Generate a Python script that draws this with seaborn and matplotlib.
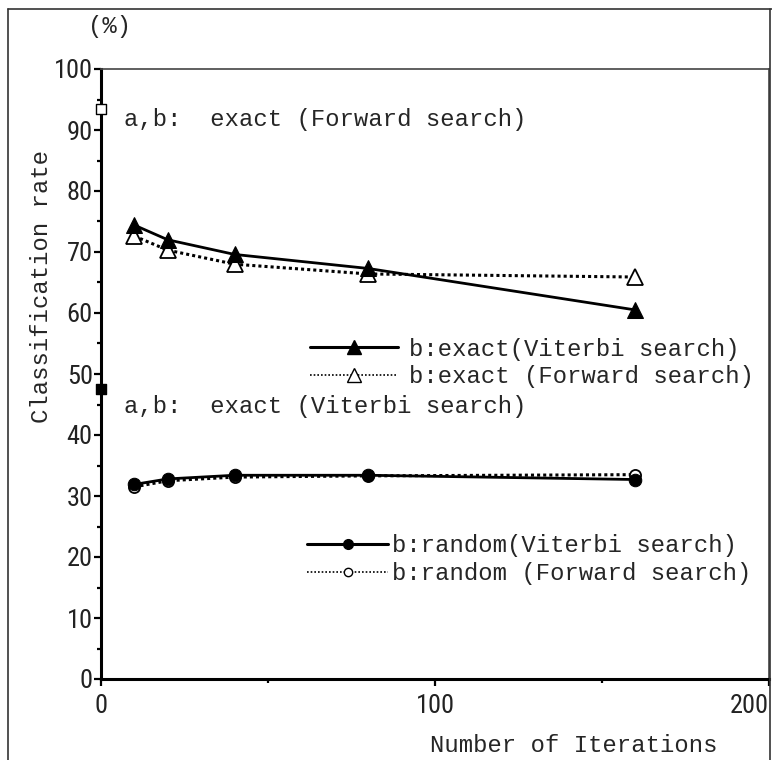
import matplotlib
matplotlib.use("Agg")
import matplotlib.pyplot as plt
from matplotlib import font_manager
from matplotlib.lines import Line2D
from matplotlib.ticker import MultipleLocator
import pandas as pd
import seaborn as sns

# ---- data -------------------------------------------------------------
iterations = [10, 20, 40, 80, 160]
exact_viterbi = [74.4, 72.0, 69.6, 67.3, 60.5]
exact_forward = [72.6, 70.3, 68.0, 66.4, 65.9]
random_viterbi = [31.9, 32.8, 33.4, 33.4, 32.7]
random_forward = [31.5, 32.5, 33.1, 33.3, 33.5]

ab_forward_rate = 93.5   # a,b: exact (Forward search)
ab_viterbi_rate = 47.5   # a,b: exact (Viterbi search)

series_labels = [
    "b:exact(Viterbi search)",
    "b:exact (Forward search)",
    "b:random(Viterbi search)",
    "b:random (Forward search)",
]
ab_labels = ["a,b:  exact (Forward search)", "a,b:  exact (Viterbi search)"]
x_ticks = [0, 100, 200]
y_ticks = list(range(0, 101, 10))

# ---- fonts ------------------------------------------------------------
sns.set_theme(style="white")

def have(name):
    try:
        font_manager.findfont(name, fallback_to_default=False)
        return True
    except Exception:
        return False

def condensed_font():
    # prefer a narrow sans face for the tick numbers
    names = sorted({f.name for f in font_manager.fontManager.ttflist})
    for pref in ("Liberation Sans Narrow", "Roboto Condensed",
                 "Open Sans Condensed", "DejaVu Sans Condensed",
                 "Noto Sans Condensed"):
        if pref in names:
            return pref, "normal"
    for f in font_manager.fontManager.ttflist:
        if "sans" in f.name.lower() and str(f.stretch) in (
                "condensed", "semi-condensed", "extra-condensed", "75", "87.5"):
            return f.name, f.stretch
    for n in names:
        if "Narrow" in n or "Condensed" in n:
            return n, "normal"
    return "Liberation Sans", "normal"

MONO = "Liberation Mono" if have("Liberation Mono") else "DejaVu Sans Mono"
NARROW, NARROW_STRETCH = condensed_font()
plt.rcParams["font.family"] = [MONO, "DejaVu Sans"]

# ---- figure -----------------------------------------------------------
fig = plt.figure(figsize=(7.72, 7.60), dpi=100)
ax = fig.add_axes([101 / 772, 81 / 760, 668 / 772, 610 / 760])

df = pd.DataFrame({"iter": iterations,
                   "ev": exact_viterbi, "ef": exact_forward,
                   "rv": random_viterbi, "rf": random_forward})

dotted = (0, (1.0, 1.0))
sns.lineplot(data=df, x="iter", y="ef", ax=ax, color="black", lw=2.2,
             linestyle=dotted, marker="^", markersize=11,
             markerfacecolor="white", markeredgecolor="black",
             markeredgewidth=1.3, zorder=3)
sns.lineplot(data=df, x="iter", y="ev", ax=ax, color="black", lw=2.0,
             marker="^", markersize=11, markerfacecolor="black",
             markeredgecolor="black", zorder=4)
sns.lineplot(data=df, x="iter", y="rf", ax=ax, color="black", lw=2.2,
             linestyle=dotted, marker="o", markersize=8,
             markerfacecolor="white", markeredgecolor="black",
             markeredgewidth=1.3, zorder=3)
sns.lineplot(data=df, x="iter", y="rv", ax=ax, color="black", lw=2.0,
             marker="o", markersize=9, markerfacecolor="black",
             markeredgecolor="black", zorder=4)

# a,b reference rates drawn on the y axis
sns.scatterplot(x=[0], y=[ab_forward_rate], ax=ax, marker="s", s=55,
                color="white", edgecolor="black", linewidth=1.0,
                clip_on=False, zorder=6)
sns.scatterplot(x=[0], y=[ab_viterbi_rate], ax=ax, marker="s", s=55,
                color="black", edgecolor="black", linewidth=1.0,
                clip_on=False, zorder=6)

txt_size = 17.2
ax.text(6.9, ab_forward_rate - 1.8, ab_labels[0], fontsize=txt_size,
        family=MONO, va="center", ha="left")
ax.text(6.9, ab_viterbi_rate - 2.8, ab_labels[1], fontsize=txt_size,
        family=MONO, va="center", ha="left")

# ---- axes styling -----------------------------------------------------
ax.set_xlim(0, 200)
ax.set_ylim(0, 100)
ax.set_xticks(x_ticks)
ax.set_yticks(y_ticks)
ax.xaxis.set_minor_locator(MultipleLocator(50))
ax.yaxis.set_minor_locator(MultipleLocator(5))
ax.tick_params(axis="both", which="major", direction="out", length=5,
               width=1.6, color="black", labelsize=19, pad=1,
               bottom=True, left=True)
ax.tick_params(axis="both", which="minor", direction="out", length=3,
               width=1.6, color="black", bottom=True, left=True)
for lab in ax.get_xticklabels() + ax.get_yticklabels():
    lab.set_family(NARROW)
    lab.set_stretch(NARROW_STRETCH)
    lab.set_color("#222222")
ax.tick_params(axis="x", pad=6)
# keep the last x label inside the figure
ax.get_xticklabels()[-1].set_horizontalalignment("right")

for side in ("left", "bottom"):
    ax.spines[side].set_color("black")
    ax.spines[side].set_linewidth(2.2)
for side in ("top", "right"):
    ax.spines[side].set_color("#444444")
    ax.spines[side].set_linewidth(1.2)

ax.set_xlabel("Number of Iterations", fontsize=txt_size, family=MONO)
ax.xaxis.set_label_coords(0.707, -0.09)
ax.set_ylabel("Classification rate", fontsize=txt_size, family=MONO)
ax.yaxis.set_label_coords(-0.072, 0.643)
fig.text(110 / 772, 1 - 26 / 760, "(%)", fontsize=txt_size, family=MONO,
         ha="center", va="center")

# ---- legends ----------------------------------------------------------
def solid_handle(marker, ms):
    return Line2D([], [], color="black", lw=2.2, marker=marker,
                  markersize=ms, markerfacecolor="black")

def dotted_handle(marker, ms):
    return Line2D([], [], color="black", lw=1.2, linestyle=(0, (1, 1.2)),
                  marker=marker, markersize=ms, markerfacecolor="white",
                  markeredgewidth=1.0)

leg_kw = dict(frameon=False, loc="center left", borderpad=0,
              borderaxespad=0, labelspacing=0.2,
              prop={"family": MONO, "size": txt_size},
              bbox_transform=fig.transFigure)

leg1 = ax.legend([solid_handle("^", 10), dotted_handle("^", 10)],
                 series_labels[:2], bbox_to_anchor=(310 / 772, 1 - 363 / 760),
                 handlelength=3.7, handletextpad=0.45, **leg_kw)
ax.add_artist(leg1)
ax.legend([solid_handle("o", 7), dotted_handle("o", 6)],
          series_labels[2:], bbox_to_anchor=(307 / 772, 1 - 559.5 / 760),
          handlelength=3.4, handletextpad=0.15, **leg_kw)

# ---- outer frame ------------------------------------------------------
frame_kw = dict(color="#333333", lw=1.2, transform=fig.transFigure)
fig.add_artist(Line2D([8 / 772, 8 / 772], [0, 1 - 9 / 760], **frame_kw))
fig.add_artist(Line2D([8 / 772, 1], [1 - 9 / 760, 1 - 9 / 760], **frame_kw))
fig.add_artist(Line2D([769.5 / 772, 769.5 / 772], [0, 1 - 9 / 760], **frame_kw))

fig.savefig("out.png", dpi=100, facecolor="white")
